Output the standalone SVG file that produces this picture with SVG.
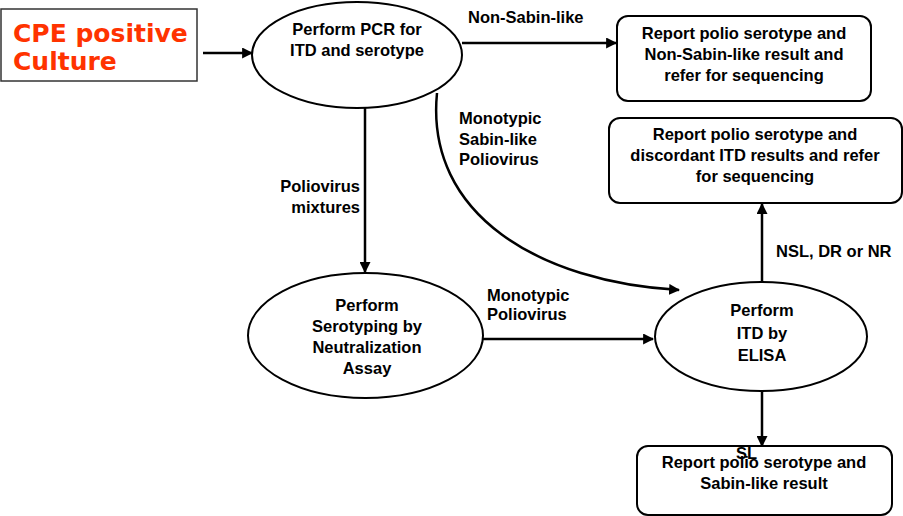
<svg xmlns="http://www.w3.org/2000/svg" width="903" height="516" viewBox="0 0 903 516">
<style>
.node{fill:#fff;stroke:#000;stroke-width:2}
.t{font-family:"Liberation Sans",Arial,sans-serif;font-weight:bold;font-size:16.5px;fill:#000}
.c{text-anchor:middle}
.e{fill:none;stroke:#000;stroke-width:2.5}
.cpe{font-family:"DejaVu Sans",Verdana,sans-serif;font-weight:bold;font-size:25px;fill:#FF3300}
</style>
<defs>
<marker id="ah" viewBox="0 0 10 10" refX="9" refY="5" markerWidth="4.4" markerHeight="4.4" markerUnits="strokeWidth" orient="auto">
<path d="M0,0 L10,5 L0,10 z" fill="#000"/>
</marker>
</defs>
<rect width="903" height="516" fill="#fff"/>
<g id="edges">
<line class="e" x1="203" y1="53" x2="252" y2="53" marker-end="url(#ah)"/>
<line class="e" x1="462" y1="43" x2="616" y2="43" marker-end="url(#ah)"/>
<line class="e" x1="365" y1="108" x2="365" y2="272" marker-end="url(#ah)"/>
<path class="e" d="M437,93 C425,215 540,282 679,290" marker-end="url(#ah)"/>
<line class="e" x1="483" y1="339" x2="653" y2="339" marker-end="url(#ah)"/>
<line class="e" x1="762" y1="282" x2="762" y2="204" marker-end="url(#ah)"/>
<line class="e" x1="762" y1="391" x2="762" y2="446" marker-end="url(#ah)"/>
<text class="t" x="468" y="23">Non-Sabin-like</text>
<text class="t" x="360" y="192" text-anchor="end">Poliovirus</text>
<text class="t" x="360" y="213" text-anchor="end">mixtures</text>
<text class="t" x="459" y="124">Monotypic</text>
<text class="t" x="459" y="145">Sabin-like</text>
<text class="t" x="459" y="165">Poliovirus</text>
<text class="t" x="487" y="301">Monotypic</text>
<text class="t" x="487" y="320">Poliovirus</text>
<text class="t" x="776" y="257">NSL, DR or NR</text>
</g>
<g id="cpe">
<rect x="1" y="9" width="196" height="72" fill="#fff" stroke="#333" stroke-width="1.5"/>
<text class="cpe" x="13" y="42">CPE positive</text>
<text class="cpe" x="13" y="70">Culture</text>
</g>
<g id="pcr">
<ellipse class="node" cx="357" cy="55" rx="105" ry="53"/>
<text class="t c" x="357" y="35">Perform PCR for</text>
<text class="t c" x="357" y="56">ITD and serotype</text>
</g>
<g id="report-nsl">
<rect class="node" x="617" y="16" width="254" height="85" rx="11"/>
<text class="t c" x="744" y="39">Report polio serotype and</text>
<text class="t c" x="744" y="60">Non-Sabin-like result and</text>
<text class="t c" x="744" y="81">refer for sequencing</text>
</g>
<g id="report-discordant">
<rect class="node" x="609" y="118" width="293" height="85" rx="11"/>
<text class="t c" x="755" y="140">Report polio serotype and</text>
<text class="t c" x="755" y="161">discordant ITD results and refer</text>
<text class="t c" x="755" y="182">for sequencing</text>
</g>
<g id="serotyping">
<ellipse class="node" cx="365.5" cy="335.5" rx="117.5" ry="62.5"/>
<text class="t c" x="367" y="311">Perform</text>
<text class="t c" x="367" y="332">Serotyping by</text>
<text class="t c" x="367" y="353">Neutralization</text>
<text class="t c" x="367" y="374">Assay</text>
</g>
<g id="elisa">
<ellipse class="node" cx="761" cy="336.5" rx="106" ry="54.5"/>
<text class="t c" x="762" y="316">Perform</text>
<text class="t c" x="762" y="339">ITD by</text>
<text class="t c" x="762" y="361">ELISA</text>
</g>
<g id="report-sl">
<rect class="node" x="637" y="446" width="255" height="69" rx="11"/>
<text class="t c" x="764" y="468">Report polio serotype and</text>
<text class="t c" x="764" y="489">Sabin-like result</text>
</g>
<text class="t" x="736" y="459">SL</text>
</svg>
